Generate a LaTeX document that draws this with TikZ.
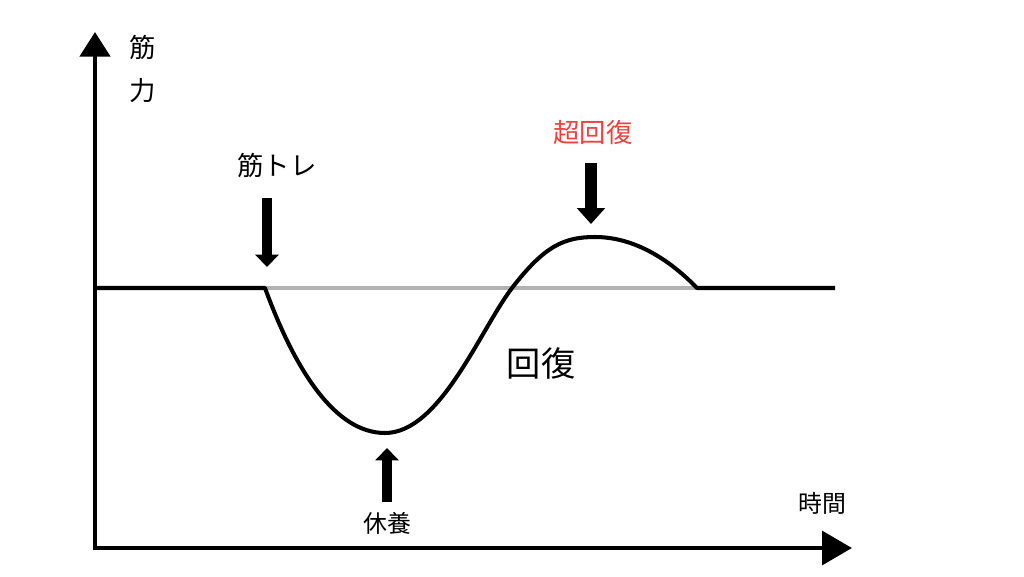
\documentclass[tikz,border=0pt]{standalone}
\usepackage{fontspec}
\setmainfont{Noto Sans CJK JP}
\usepackage{xcolor}
\usepackage{tikz}
\usetikzlibrary{arrows.meta, positioning}
\definecolor{superred}{RGB}{240,64,64}
\definecolor{basegray}{RGB}{178,178,178}

\begin{document}
\begin{tikzpicture}[x=0.02cm, y=-0.02cm,
	axis/.style={line width=2.8pt, {Triangle[length=14pt,width=17pt]}-{Triangle[length=17pt,width=19pt]}},
	curve/.style={line width=2.3pt, line join=round},
	fatarrow/.style={line width=6.2pt, -{Triangle[length=7pt,width=13pt]}},
	lbl/.style={inner sep=0pt, font=\fontsize{15}{15}\selectfont}]
	\useasboundingbox (0,0) rectangle (1024,576);
	\coordinate (ytop) at (95,32);
	\coordinate (origin) at (95,548);
	\coordinate (xend) at (852,548);
	\coordinate (start) at (95,288);
	\coordinate (train) at (265,288);
	\coordinate (bottom) at (385,433);
	\coordinate (cross) at (512,288);
	\coordinate (peak) at (595,237);
	\coordinate (back) at (697,288);
	\coordinate (finish) at (835,288);
	\draw[axis] (ytop) -- (origin) -- (xend);
	\draw[basegray, line width=1.8pt] (train) -- (back);
	\draw[curve] (start) -- (train) .. controls (295,370) and (335,433) .. (bottom)
		.. controls (440,433) and (480,330) .. (cross)
		.. controls (545,245) and (565,237) .. (peak)
		.. controls (630,237) and (665,255) .. (back) -- (finish);
	\node[lbl, align=center, font=\fontsize{15}{24}\selectfont] (strength) at (143,69) {筋\\力};
	\node[lbl] (time) at (822,503) {\fontsize{13.6}{14}\selectfont 時間};
	\node[lbl] (trainlbl) at (277,165) {筋トレ};
	\node[lbl, text=superred] (superlbl) at (593,132) {超回復};
	\node[lbl, font=\fontsize{13.6}{14}\selectfont] (restlbl) at (387,523) {休養};
	\node[lbl, font=\fontsize{19.5}{20}\selectfont] (recovery) at (541,363) {回復};
	\coordinate (trainfrom) at (267,198);
	\coordinate (trainto) at (267,267);
	\coordinate (superfrom) at (591,163);
	\coordinate (superto) at (591,224);
	\coordinate (restfrom) at (387,502);
	\coordinate (restto) at (387,448);
	\draw[fatarrow] (trainfrom) -- (trainto);
	\draw[fatarrow, line width=6.8pt, -{Triangle[length=9pt,width=15.5pt]}] (superfrom) -- (superto);
	\draw[fatarrow] (restfrom) -- (restto);
\end{tikzpicture}
\end{document}
